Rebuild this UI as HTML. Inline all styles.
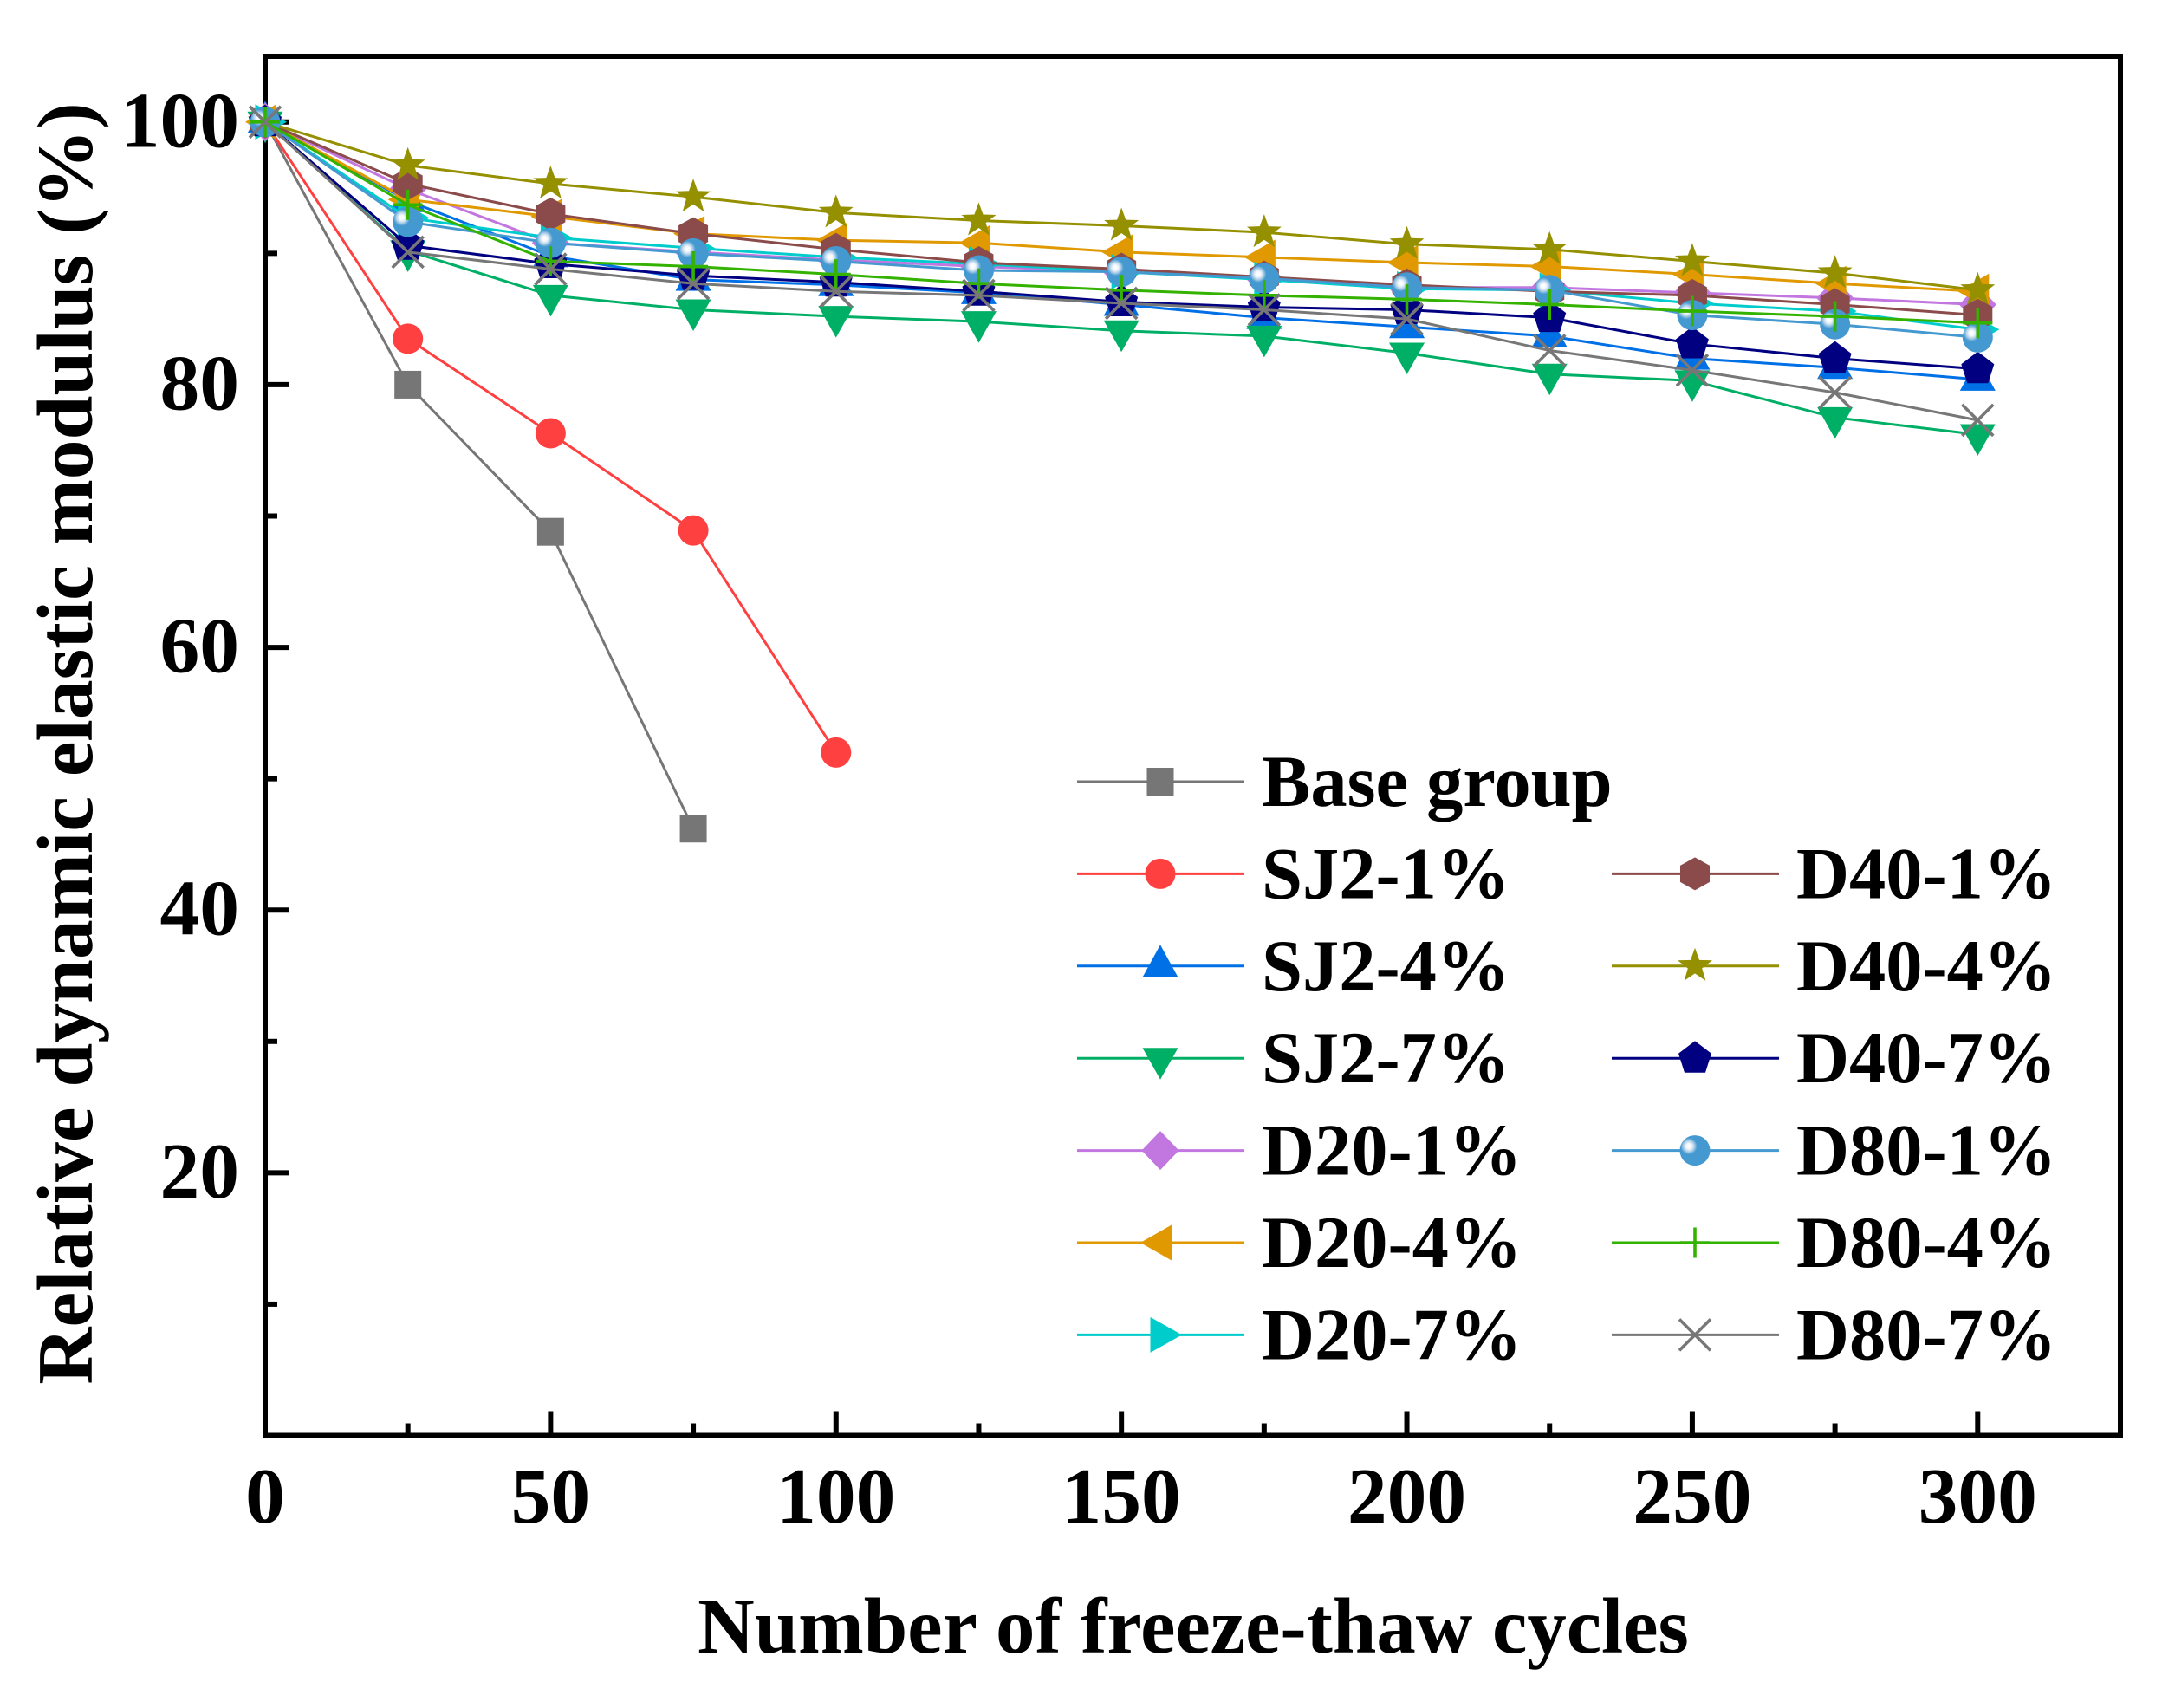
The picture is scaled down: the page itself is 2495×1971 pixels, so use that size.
<!DOCTYPE html>
<html>
<head>
<meta charset="utf-8">
<title>Relative dynamic elastic modulus vs freeze-thaw cycles</title>
<style>
html,body{margin:0;padding:0;background:#fff;}
svg{display:block;}
text{font-family:"Liberation Serif",serif;font-weight:bold;fill:#000;}
</style>
</head>
<body>
<svg id="chart" xmlns="http://www.w3.org/2000/svg" width="2495" height="1971" viewBox="0 0 2495 1971">
  <defs>
    <radialGradient id="ballGrad" cx="0.3" cy="0.36" r="0.62" fx="0.3" fy="0.36">
      <stop offset="0" stop-color="#ffffff"/>
      <stop offset="0.14" stop-color="#f4f8fc"/>
      <stop offset="0.28" stop-color="#b4d2ea"/>
      <stop offset="0.44" stop-color="#4499d0"/>
      <stop offset="1" stop-color="#4499d0"/>
    </radialGradient>
  </defs>
  <rect x="0" y="0" width="2495" height="1971" fill="#ffffff"/>
  <g id="axis-layer"></g>
  <g id="series-layer"></g>
  <g id="legend-layer"></g>
  <text x="1377" y="1907" font-size="90.8" text-anchor="middle">Number of freeze-thaw cycles</text>
  <text transform="translate(106 858) rotate(-90)" font-size="91.5" text-anchor="middle">Relative dynamic elastic modulus (%)</text>
</svg>
<script>
// ---- Data ----
const cycles = [0, 25, 50, 75, 100, 125, 150, 175, 200, 225, 250, 275, 300];
const xTickValues = [0, 50, 100, 150, 200, 250, 300];
const xMinorValues = [25, 75, 125, 175, 225, 275];
const yTickValues = [20, 40, 60, 80, 100];
const yMinorValues = [10, 30, 50, 70, 90];

const baseGroup = [100, 80.0, 68.8, 46.2];
const sj2_1 = [100, 83.5, 76.3, 68.9, 52.0];
const sj2_4 = [100, 94.0, 89.8, 88.0, 87.6, 87.0, 86.1, 85.1, 84.4, 83.7, 82.0, 81.3, 80.4];
const sj2_7 = [100, 90.2, 86.8, 85.7, 85.2, 84.8, 84.1, 83.7, 82.4, 80.8, 80.3, 77.5, 76.2];
const d20_1 = [100, 94.9, 90.8, 90.1, 89.5, 89.0, 88.6, 88.1, 87.4, 87.4, 87.0, 86.6, 86.1];
const d20_4 = [100, 94.1, 92.8, 91.5, 91.0, 90.8, 90.1, 89.7, 89.3, 89.0, 88.4, 87.7, 87.1];
const d20_7 = [100, 92.7, 91.2, 90.4, 89.7, 89.2, 88.6, 88.0, 87.3, 87.2, 86.2, 85.6, 84.2];
const d40_1 = [100, 95.3, 93.0, 91.5, 90.3, 89.3, 88.8, 88.2, 87.6, 87.1, 86.8, 86.1, 85.3];
const d40_4 = [100, 96.7, 95.3, 94.3, 93.1, 92.5, 92.1, 91.6, 90.7, 90.3, 89.4, 88.5, 87.2];
const d40_7 = [100, 90.6, 89.2, 88.3, 87.8, 87.1, 86.3, 85.9, 85.7, 85.1, 83.1, 82.0, 81.2];
const d80_1 = [100, 92.4, 90.8, 90.0, 89.4, 88.7, 88.6, 88.1, 87.4, 87.2, 85.3, 84.6, 83.6];
const d80_4 = [100, 93.7, 89.4, 89.0, 88.4, 87.7, 87.2, 86.8, 86.5, 86.1, 85.6, 85.2, 84.7];
const d80_7 = [100, 90.1, 88.8, 87.7, 87.1, 86.8, 86.2, 85.7, 85.0, 82.6, 81.1, 79.4, 77.3];

const seriesNames = ["Base group", "SJ2-1%", "SJ2-4%", "SJ2-7%", "D20-1%", "D20-4%", "D20-7%", "D40-1%", "D40-4%", "D40-7%", "D80-1%", "D80-4%", "D80-7%"];
const seriesValues = [baseGroup, sj2_1, sj2_4, sj2_7, d20_1, d20_4, d20_7, d40_1, d40_4, d40_7, d80_1, d80_4, d80_7];
const seriesColors = ["#767676", "#ff4040", "#0070e6", "#00af66", "#c276e0", "#e09900", "#00cccc", "#8b4b4b", "#949000", "#000080", "#4499d0", "#33b300", "#777777"];
const seriesMarkers = ["square", "circle", "up", "down", "diamond", "left", "right", "hex", "star", "pentagon", "ball", "plus", "cross"];

// ---- Axis functions ----
const plotLeft = 306, plotRight = 2447, plotTop = 65, plotBottom = 1656.5;
const xMin = 0, xMax = 325, yMin = 0, yMax = 105;
function xScale(v) { return plotLeft + (v - xMin) / (xMax - xMin) * (plotRight - plotLeft); }
function yScale(v) { return plotBottom - (v - yMin) / (yMax - yMin) * (plotBottom - plotTop); }

const NS = "http://www.w3.org/2000/svg";
function make(tag, attrs, parent) {
  const el = document.createElementNS(NS, tag);
  for (const k in attrs) el.setAttribute(k, attrs[k]);
  parent.appendChild(el);
  return el;
}
function pts(list) { return list.map(p => p[0].toFixed(2) + "," + p[1].toFixed(2)).join(" "); }
function slug(s) { return s.toLowerCase().replace(/%/g, "pct").replace(/[^a-z0-9]+/g, "-"); }

function starPoints(cx, cy) {
  const R = 21, r = 8.6, out = [];
  for (let i = 0; i < 10; i++) {
    const a = -Math.PI / 2 + i * Math.PI / 5;
    const q = i % 2 ? r : R;
    out.push([cx + q * Math.cos(a), cy + q * Math.sin(a)]);
  }
  return out;
}

function drawMarker(kind, cx, cy, color, parent) {
  let el;
  if (kind === "square") {
    el = make("rect", {x: cx - 15.5, y: cy - 16, width: 31, height: 32, fill: color}, parent);
  } else if (kind === "circle") {
    el = make("circle", {cx: cx, cy: cy, r: 17.5, fill: color}, parent);
  } else if (kind === "ball") {
    el = make("circle", {cx: cx, cy: cy, r: 17.5, fill: "url(#ballGrad)"}, parent);
  } else if (kind === "up") {
    el = make("polygon", {points: pts([[cx, cy - 24.5], [cx + 20.5, cy + 13], [cx - 20.5, cy + 13]]), fill: color}, parent);
  } else if (kind === "down") {
    el = make("polygon", {points: pts([[cx, cy + 24.5], [cx + 20.5, cy - 12], [cx - 20.5, cy - 12]]), fill: color}, parent);
  } else if (kind === "left") {
    el = make("polygon", {points: pts([[cx - 23, cy], [cx + 13, cy - 20.5], [cx + 13, cy + 20.5]]), fill: color}, parent);
  } else if (kind === "right") {
    el = make("polygon", {points: pts([[cx + 25, cy], [cx - 11.5, cy - 20.5], [cx - 11.5, cy + 20.5]]), fill: color}, parent);
  } else if (kind === "diamond") {
    el = make("polygon", {points: pts([[cx, cy - 22.5], [cx + 21.5, cy], [cx, cy + 22.5], [cx - 21.5, cy]]), fill: color}, parent);
  } else if (kind === "hex") {
    el = make("polygon", {points: pts([[cx, cy - 19], [cx + 17, cy - 9.5], [cx + 17, cy + 9.5], [cx, cy + 19], [cx - 17, cy + 9.5], [cx - 17, cy - 9.5]]), fill: color}, parent);
  } else if (kind === "star") {
    el = make("polygon", {points: pts(starPoints(cx, cy)), fill: color}, parent);
  } else if (kind === "pentagon") {
    el = make("polygon", {points: pts([[cx, cy - 20], [cx + 19, cy - 5.5], [cx + 12, cy + 16.5], [cx - 12, cy + 16.5], [cx - 19, cy - 5.5]]), fill: color}, parent);
  } else if (kind === "plus") {
    el = make("path", {d: "M" + (cx - 17) + " " + cy + "H" + (cx + 17) + "M" + cx + " " + (cy - 17.5) + "V" + (cy + 17.5), fill: "none", stroke: color, "stroke-width": 3.6}, parent);
  } else {
    el = make("path", {d: "M" + (cx - 18) + " " + (cy - 18) + "L" + (cx + 18) + " " + (cy + 18) + "M" + (cx + 18) + " " + (cy - 18) + "L" + (cx - 18) + " " + (cy + 18), fill: "none", stroke: color, "stroke-width": 3.6}, parent);
  }
  return el;
}

// ---- Series ----
const seriesLayer = document.getElementById("series-layer");
seriesValues.forEach(function (values, i) {
  const g = make("g", {}, seriesLayer);
  
  
  const line = make("polyline", {
    points: pts(values.map((v, j) => [xScale(cycles[j]), yScale(v)])),
    fill: "none", stroke: seriesColors[i], "stroke-width": 3, "stroke-linejoin": "round"
  }, g);
  
  
  values.forEach(function (v, j) {
    const m = drawMarker(seriesMarkers[i], xScale(cycles[j]), yScale(v), seriesColors[i], g);
    
    
  });
});

// ---- Axes ----
const axisLayer = document.getElementById("axis-layer");
const frame = make("rect", {x: plotLeft, y: plotTop, width: plotRight - plotLeft, height: plotBottom - plotTop, fill: "none", stroke: "#000", "stroke-width": 6}, axisLayer);



xTickValues.forEach(function (v) {
  const x = xScale(v);
  if (v !== xMin) {
    const t = make("line", {x1: x, x2: x, y1: plotBottom, y2: plotBottom - 28, stroke: "#000", "stroke-width": 6}, axisLayer);
    
    
  }
  const l = make("text", {x: x, y: 1757, "font-size": 91.5, "text-anchor": "middle"}, axisLayer);
  l.textContent = String(v);
  
  
});
xMinorValues.forEach(function (v) {
  const x = xScale(v);
  const t = make("line", {x1: x, x2: x, y1: plotBottom, y2: plotBottom - 14, stroke: "#000", "stroke-width": 6}, axisLayer);
  
  
});
yTickValues.forEach(function (v) {
  const y = yScale(v);
  const t = make("line", {x1: plotLeft, x2: plotLeft + 28, y1: y, y2: y, stroke: "#000", "stroke-width": 6}, axisLayer);
  
  
  const l = make("text", {x: 276, y: y + 28.5, "font-size": 91.5, "text-anchor": "end"}, axisLayer);
  l.textContent = String(v);
  
  
});
yMinorValues.forEach(function (v) {
  const y = yScale(v);
  const t = make("line", {x1: plotLeft, x2: plotLeft + 14, y1: y, y2: y, stroke: "#000", "stroke-width": 6}, axisLayer);
  
  
});

// ---- Legend ----
const legendLayer = document.getElementById("legend-layer");
seriesNames.forEach(function (name, i) {
  const col = i <= 6 ? 0 : 1;
  const row = i <= 6 ? i : i - 6;
  const rowY = 902 + row * 106.4;
  const x0 = col === 0 ? 1243 : 1860;
  const g = make("g", {}, legendLayer);
  
  
  const ln = make("line", {x1: x0, x2: x0 + 193, y1: rowY, y2: rowY, stroke: seriesColors[i], "stroke-width": 3}, g);
  
  
  const mk = drawMarker(seriesMarkers[i], x0 + 96, rowY, seriesColors[i], g);
  
  
  const tx = make("text", {x: x0 + 213, y: rowY + 28, "font-size": 84.5}, g);
  tx.textContent = name;
  
  
});
</script>
</body>
</html>
